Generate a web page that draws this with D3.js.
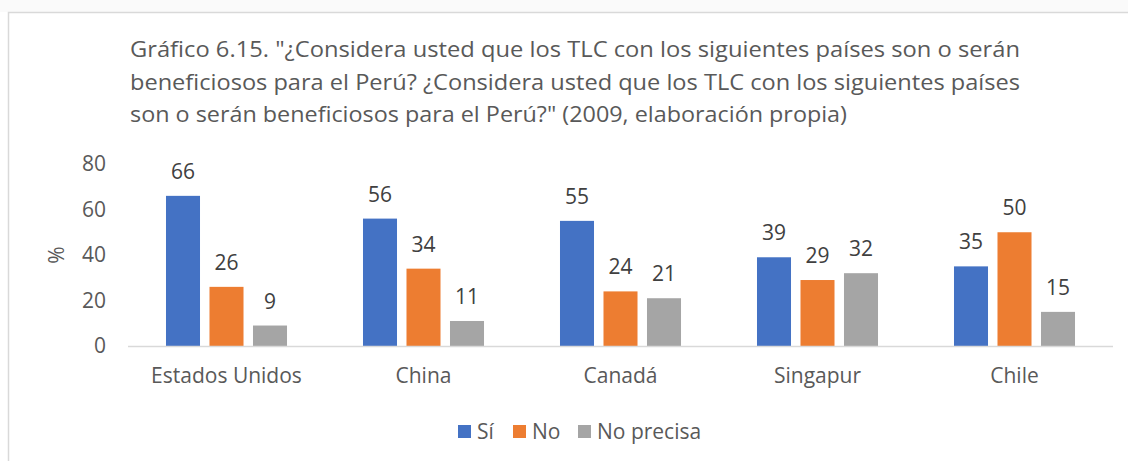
<!DOCTYPE html>
<html><head><meta charset="utf-8">
<script src="https://cdn.jsdelivr.net/npm/d3@7"></script>
<style>html,body{margin:0;padding:0;background:#fff;}svg{display:block;font-family:"Open Sans",sans-serif;}</style>
</head><body>
<svg id="c" width="1128" height="461"></svg>
<script>
const titleLines = [
  "Gráfico 6.15. \"¿Considera usted que los TLC con los siguientes países son o serán",
  "beneficiosos para el Perú? ¿Considera usted que los TLC con los siguientes países",
  "son o serán beneficiosos para el Perú?\" (2009, elaboración propia)"
];
const categories = ["Estados Unidos", "China", "Canadá", "Singapur", "Chile"];
const seriesNames = ["Sí", "No", "No precisa"];
const siValues = [66, 56, 55, 39, 35];
const noValues = [26, 34, 24, 29, 50];
const noPrecisaValues = [9, 11, 21, 32, 15];
const yTicks = [0, 20, 40, 60, 80];
const colors = ["#4472C4", "#ED7D31", "#A5A5A5"];
const seriesValues = [siValues, noValues, noPrecisaValues];

const svg = d3.select("#c");
svg.append("rect").attr("width",1128).attr("height",461).attr("fill","#fff");
svg.append("rect").attr("x",0).attr("y",0).attr("width",1128).attr("height",12).attr("fill","#fafafa");
// chart box border
svg.append("path").attr("d","M8.5,470 V12.5 H1140").attr("fill","none").attr("stroke","#d9d9d9").attr("stroke-width",1.5);

// title
const title = svg.append("g");
const titleWidths = [890, 890, 717];
titleLines.forEach((t,i)=>{
  const el = title.append("text").attr("x",130).attr("y",57+i*32.5)
    .attr("fill","#595959").attr("font-size",21.5).text(t);
  const w = el.node().getComputedTextLength();
  if (Math.abs(w - titleWidths[i]) > 3) el.attr("textLength", titleWidths[i]).attr("lengthAdjust","spacingAndGlyphs");
});

const x0 = d3.scaleBand().domain(categories).range([128,1113]);
const y = d3.scaleLinear().domain([0,80]).range([346,164]);
const groupW = 130.5;
const x1 = d3.scaleBand().domain(seriesNames).range([-groupW/2, groupW/2]).paddingInner(0.218).paddingOuter(0.109);

// y tick labels
svg.append("g").selectAll("text").data(yTicks).join("text")
  .attr("x",106).attr("y",d=>y(d)).attr("dy","0.35em").attr("text-anchor","end")
  .attr("fill","#595959").attr("font-size",21).text(d=>d);

// axis title
svg.append("text").attr("transform",`translate(${64},${y(40)}) rotate(-90)`)
  .attr("text-anchor","middle").attr("fill","#595959").attr("font-size",21).text("%");

// bars
seriesNames.forEach((s,si)=>{
  const g = svg.append("g");
  g.selectAll("rect").data(categories).join("rect")
    .attr("x",(c)=>x0(c)+x0.bandwidth()/2+x1(s))
    .attr("y",(c,i)=>y(seriesValues[si][i]))
    .attr("width",x1.bandwidth())
    .attr("height",(c,i)=>y(0)-y(seriesValues[si][i]))
    .attr("fill",colors[si]);
  g.selectAll("text").data(categories).join("text")
    .attr("x",(c)=>x0(c)+x0.bandwidth()/2+x1(s)+x1.bandwidth()/2)
    .attr("y",(c,i)=>y(seriesValues[si][i])-17)
    .attr("text-anchor","middle").attr("fill","#404040").attr("font-size",21)
    .text((c,i)=>seriesValues[si][i]);
});

// x axis line
svg.append("line").attr("x1",128).attr("x2",1113).attr("y1",346.5).attr("y2",346.5)
  .attr("stroke","#d9d9d9").attr("stroke-width",1.5);

// category labels
svg.append("g").selectAll("text").data(categories).join("text")
  .attr("x",c=>x0(c)+x0.bandwidth()/2).attr("y",383).attr("text-anchor","middle")
  .attr("fill","#595959").attr("font-size",21).text(c=>c);

// legend
const legendX = [458, 513, 578];
const lg = svg.append("g");
seriesNames.forEach((s,i)=>{
  lg.append("rect").attr("x",legendX[i]).attr("y",425).attr("width",13).attr("height",13).attr("fill",colors[i]);
  lg.append("text").attr("x",legendX[i]+19).attr("y",431.5).attr("dy","0.35em")
    .attr("fill","#595959").attr("font-size",21).text(s);
});
</script>
</body></html>
